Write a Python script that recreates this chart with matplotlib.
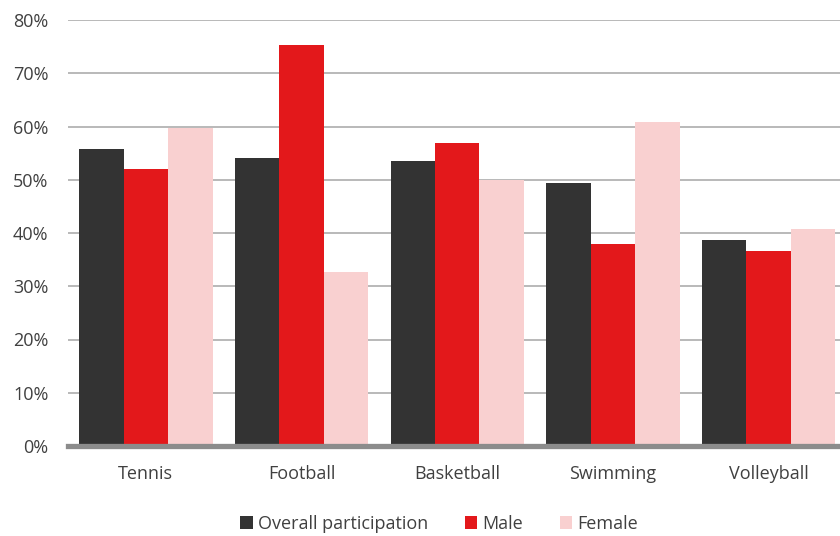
import matplotlib
matplotlib.use("Agg")
import matplotlib.pyplot as plt
from matplotlib.patches import Patch
import numpy as np

plt.rcParams['font.family'] = ['Open Sans', 'DejaVu Sans']

categories = ["Tennis", "Football", "Basketball", "Swimming", "Volleyball"]
overall = [55.8, 54.1, 53.5, 49.4, 38.7]
male = [52.0, 75.3, 56.9, 37.9, 36.6]
female = [59.7, 32.7, 50.0, 60.8, 40.8]
series_names = ["Overall participation", "Male", "Female"]
colors = ["#333333", "#e3181b", "#f9d0d0"]
yticks = [0, 10, 20, 30, 40, 50, 60, 70, 80]
ytick_labels = [f"{v}%" for v in yticks]

fig = plt.figure(figsize=(8.4, 5.36), dpi=100)
ax = fig.add_axes([68/840, 1-446/536, (846.5-68)/840, (446-20)/536])

x = np.arange(len(categories))
w = 0.2858
for i, (vals, c) in enumerate(zip([overall, male, female], colors)):
    ax.bar(x + (i-1)*w, vals, width=w, color=c, zorder=3, linewidth=0)

ax.set_xlim(-0.5, len(categories)-0.5)
ax.set_ylim(0, 80)
ax.set_yticks(yticks)
ax.set_yticklabels(ytick_labels)
ax.set_xticks(x)
ax.set_xticklabels(categories)
ax.tick_params(axis='both', length=0, labelsize=13, labelcolor="#404040")
ax.tick_params(axis='y', pad=14)
ax.tick_params(axis='x', pad=14)
ax.yaxis.grid(True, color="#a6a6a6", linewidth=1.1, zorder=0)
ax.set_axisbelow(True)
for s in ['top', 'right', 'left']:
    ax.spines[s].set_visible(False)
ax.spines['bottom'].set_color("#8c8c8c")
ax.spines['bottom'].set_linewidth(3.8)
ax.spines['bottom'].set_zorder(4)

handles = [Patch(facecolor=c, edgecolor='none') for c in colors]
fig.legend(handles, series_names, loc='center', bbox_to_anchor=(0.523, 1-524/536),
           ncol=3, frameon=False, fontsize=13, handlelength=0.7, handleheight=0.7,
           handletextpad=0.3, columnspacing=2.0, labelcolor="#404040")

fig.savefig("out.png", dpi=100)
